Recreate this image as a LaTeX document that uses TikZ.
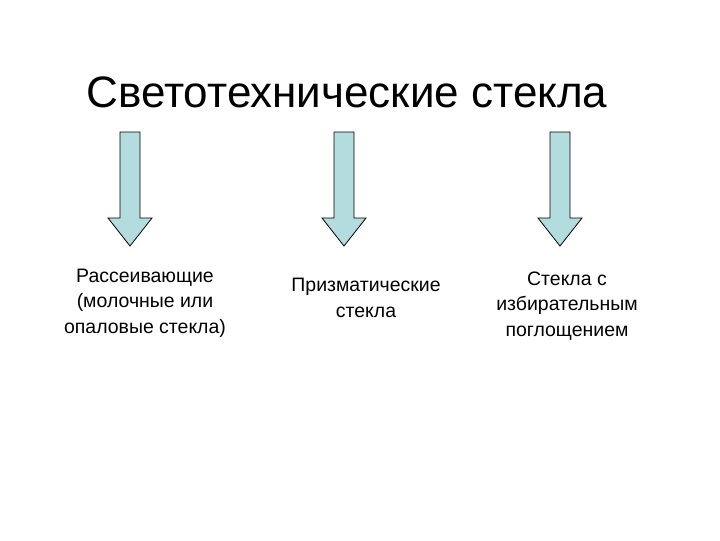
\documentclass[tikz,border=0pt]{standalone}
\usepackage{fontspec}
\setmainfont{Liberation Sans}
\begin{document}
\begin{tikzpicture}[x=0.75pt,y=-0.75pt,
  fatarrow/.style={fill={rgb,255:red,178;green,220;blue,222},draw=black,line width=0.6pt},
  lbl/.style={align=center,font=\fontsize{14.6}{19}\selectfont}]
\useasboundingbox (0,0) rectangle (720,540);
\node[font=\fontsize{33}{40}\selectfont] (title) at (347,92) {Светотехнические стекла};
\foreach \cx in {130,344,560}{
  \draw[fatarrow] (\cx-10,132) -- (\cx+10,132) -- (\cx+10,218) -- (\cx+22,218) -- (\cx,246) -- (\cx-22,218) -- (\cx-10,218) -- cycle;
}
\node[lbl] (a) at (145,303) {Рассеивающие\\(молочные или\\опаловые стекла)};
\node[lbl] (b) at (366,298) {Призматические\\стекла};
\node[lbl] (c) at (567,306) {Стекла с\\избирательным\\поглощением};
\end{tikzpicture}
\end{document}
